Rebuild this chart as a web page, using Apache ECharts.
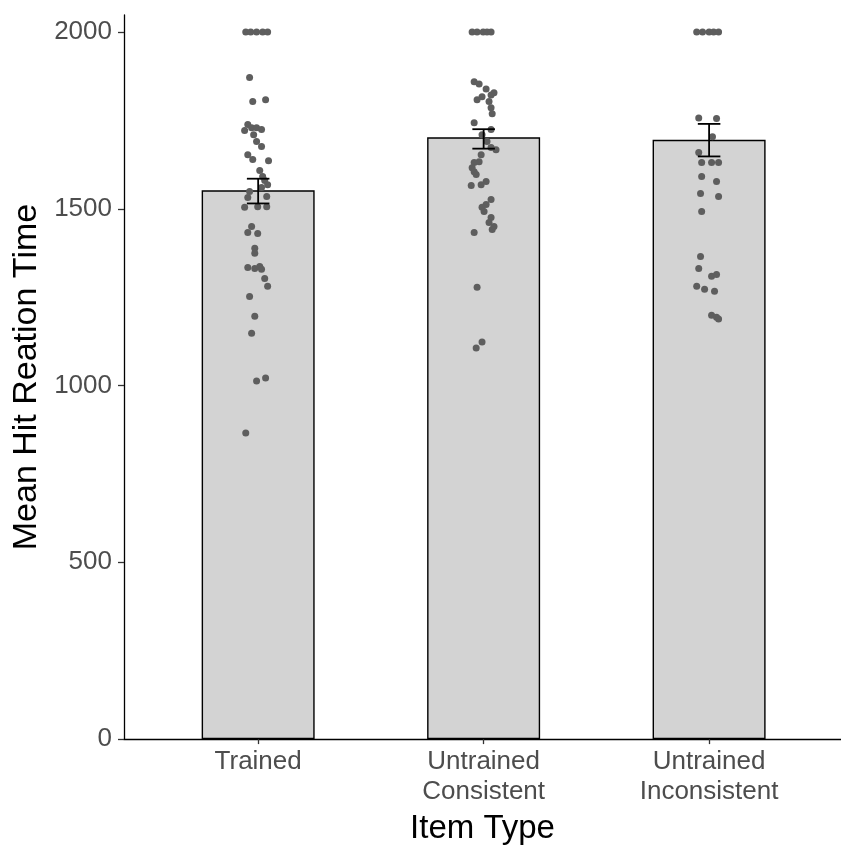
<!DOCTYPE html>
<html>
<head>
<meta charset="utf-8">
<script src="https://cdn.jsdelivr.net/npm/echarts@6/dist/echarts.min.js"></script>
<style>html,body{margin:0;padding:0;background:#fff;}#c{width:841px;height:850px;}</style>
</head>
<body>
<div id="c"></div>
<script>
// Categories and summary values
var categories = ['Trained', 'Untrained\nConsistent', 'Untrained\nInconsistent'];
var meanValues = [1552, 1702, 1695];
var errLow = [1515, 1670, 1648];
var errHigh = [1585, 1725, 1740];
var yTicks = [0, 500, 1000, 1500, 2000];

// Individual (jittered) points: horizontal jitter offsets and values, per group
var trainedJitter = [-0.055, -0.033, -0.007, 0.02, 0.042, -0.038, -0.024, 0.033, -0.046, -0.029, -0.06, -0.007, 0.015, -0.02, -0.007, 0.015, -0.046, -0.024, 0.046, 0.007, 0.02, 0.029, 0.042, 0.015, -0.038, -0.046, 0.038, -0.002, 0.038, -0.06, -0.029, -0.046, -0.002, -0.015, -0.015, -0.046, -0.015, 0.007, 0.015, 0.029, 0.042, -0.038, -0.015, -0.029, -0.007, 0.033, -0.055];
var trainedValues = [2000, 2000, 2000, 2000, 2000, 1871, 1803, 1808, 1738, 1729, 1721, 1729, 1724, 1709, 1690, 1676, 1653, 1639, 1636, 1608, 1591, 1580, 1568, 1560, 1549, 1532, 1535, 1506, 1506, 1504, 1450, 1433, 1430, 1388, 1374, 1334, 1331, 1337, 1329, 1303, 1281, 1252, 1196, 1148, 1013, 1021, 866];

var consistentJitter = [-0.051, -0.029, -0.002, 0.015, 0.033, -0.042, -0.02, 0.011, 0.046, -0.007, -0.029, 0.033, 0.024, 0.033, 0.038, -0.042, 0.033, -0.007, 0.015, 0.033, 0.055, -0.011, -0.02, -0.042, -0.051, -0.042, -0.033, 0.011, -0.055, -0.011, 0.033, 0.011, -0.007, 0.002, 0.033, 0.024, 0.038, -0.042, 0.046, -0.029, -0.007, -0.033];
var consistentValues = [2000, 2000, 2000, 2000, 2000, 1859, 1853, 1839, 1828, 1817, 1808, 1822, 1803, 1786, 1769, 1743, 1724, 1709, 1690, 1673, 1667, 1653, 1633, 1631, 1616, 1605, 1597, 1577, 1566, 1568, 1526, 1512, 1504, 1492, 1475, 1461, 1441, 1433, 1450, 1278, 1123, 1106];

var inconsistentJitter = [-0.055, -0.029, 0, 0.02, 0.042, -0.046, 0.033, 0.015, -0.046, -0.033, 0.011, 0.042, -0.033, 0.033, -0.038, 0.042, -0.033, -0.038, -0.046, 0.011, 0.033, -0.055, -0.02, 0.024, 0.011, 0.033, 0.042];
var inconsistentValues = [2000, 2000, 2000, 2000, 2000, 1757, 1755, 1704, 1659, 1631, 1631, 1631, 1591, 1577, 1543, 1535, 1492, 1365, 1331, 1309, 1314, 1281, 1272, 1267, 1199, 1193, 1188];

var groupJitter = [trainedJitter, consistentJitter, inconsistentJitter];
var groupValues = [trainedValues, consistentValues, inconsistentValues];

var barData = meanValues.map(function (v, i) { return [i, v]; });
var errData = errLow.map(function (lo, i) { return [i, lo, errHigh[i]]; });
var pointData = [];
groupValues.forEach(function (vals, g) {
  vals.forEach(function (v, k) { pointData.push([g + groupJitter[g][k], v]); });
});

var FONT = 'Liberation Sans, Arial, sans-serif';
var chart = echarts.init(document.getElementById('c'), null, { renderer: 'canvas' });
chart.setOption({
  animation: false,
  backgroundColor: '#ffffff',
  grid: { left: 124, top: 15, right: 0, bottom: 109, containLabel: false },
  xAxis: {
    type: 'value', min: -0.595, max: 2.585,
    name: 'Item Type', nameLocation: 'middle', nameGap: 70,
    nameTextStyle: { fontFamily: FONT, fontSize: 33, color: '#000' },
    axisLine: { show: true, onZero: false, lineStyle: { color: '#000', width: 1.3 } },
    axisTick: { show: true, length: 5, customValues: [0, 1, 2], lineStyle: { color: '#333', width: 1.3 } },
    axisLabel: {
      customValues: [0, 1, 2], margin: 8,
      formatter: function (v) { return categories[Math.round(v)]; },
      fontFamily: FONT, fontSize: 26, lineHeight: 30, color: '#4d4d4d', align: 'center'
    },
    splitLine: { show: false }
  },
  yAxis: {
    type: 'value', min: 0, max: 2048,
    name: 'Mean Hit Reation Time', nameLocation: 'middle', nameGap: 74,
    nameTextStyle: { fontFamily: FONT, fontSize: 34, color: '#000' },
    axisLine: { show: true, onZero: false, lineStyle: { color: '#000', width: 1.3 } },
    axisTick: { show: true, length: 6, customValues: yTicks, lineStyle: { color: '#333', width: 1.3 } },
    axisLabel: {
      customValues: yTicks, margin: 12, fontFamily: FONT, fontSize: 26, color: '#4d4d4d',
      formatter: function (v) { return String(v); }
    },
    splitLine: { show: false }
  },
  series: [
    {
      type: 'bar', data: barData, barWidth: 113, z: 1,
      itemStyle: { color: '#d3d3d3', borderColor: '#000', borderWidth: 1.4 }
    },
    {
      type: 'scatter', data: pointData, symbol: 'circle', symbolSize: 7, z: 3,
      itemStyle: { color: '#5e5e5e', opacity: 1 }
    },
    {
      type: 'custom', z: 5, data: errData,
      renderItem: function (params, api) {
        var x = api.value(0);
        var lo = api.coord([x, api.value(1)]);
        var hi = api.coord([x, api.value(2)]);
        var l = api.coord([x - 0.05, api.value(1)]);
        var r = api.coord([x + 0.05, api.value(1)]);
        var style = { stroke: '#000', lineWidth: 1.8 };
        return {
          type: 'group',
          children: [
            { type: 'line', shape: { x1: lo[0], y1: lo[1], x2: hi[0], y2: hi[1] }, style: style },
            { type: 'line', shape: { x1: l[0], y1: hi[1], x2: r[0], y2: hi[1] }, style: style },
            { type: 'line', shape: { x1: l[0], y1: lo[1], x2: r[0], y2: lo[1] }, style: style }
          ]
        };
      }
    }
  ]
});
</script>
</body>
</html>
